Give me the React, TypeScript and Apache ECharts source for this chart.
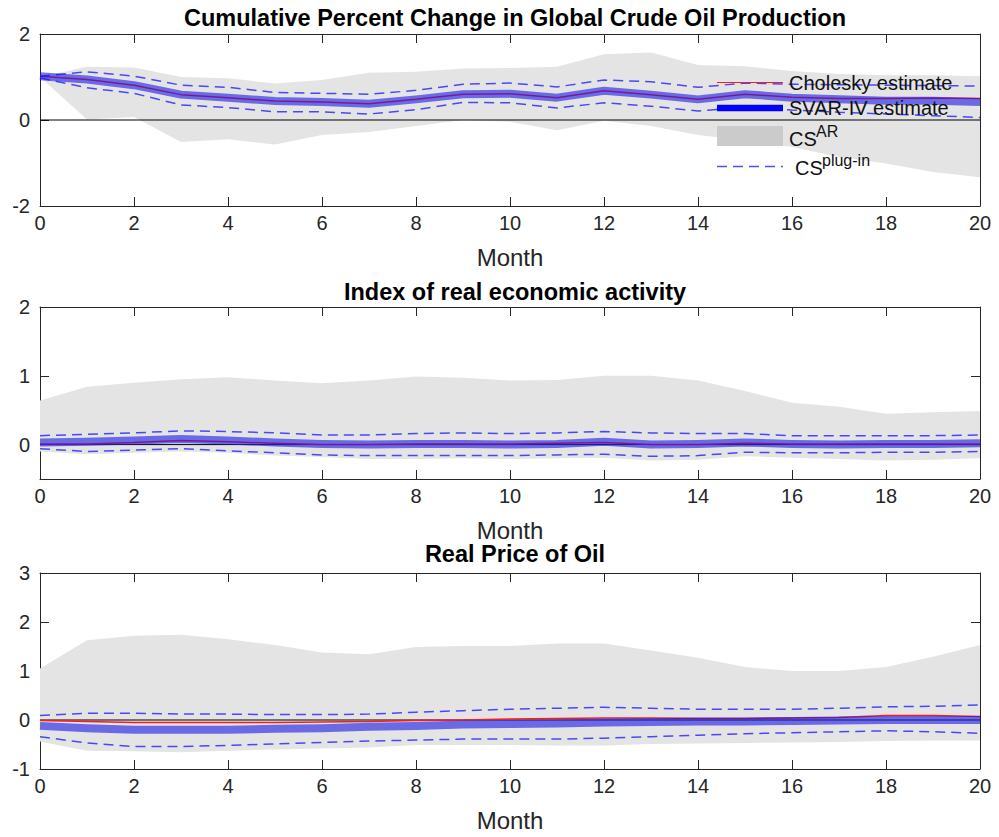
import React, { useEffect, useRef } from "react";
import * as echarts from "echarts";

// ---------- data ----------
const months = [0, 1, 2, 3, 4, 5, 6, 7, 8, 9, 10, 11, 12, 13, 14, 15, 16, 17, 18, 19, 20];

// Panel 1: Cumulative Percent Change in Global Crude Oil Production
const prodSvar = [1.02, 0.94, 0.81, 0.59, 0.52, 0.44, 0.42, 0.38, 0.48, 0.6, 0.61, 0.52, 0.68, 0.59, 0.48, 0.6, 0.52, 0.48, 0.45, 0.45, 0.42];
const prodChol = [1.02, 0.94, 0.81, 0.59, 0.52, 0.44, 0.42, 0.38, 0.48, 0.6, 0.61, 0.52, 0.68, 0.59, 0.48, 0.6, 0.53, 0.5, 0.5, 0.51, 0.5];
const prodPlugUpper = [1.02, 1.12, 1.02, 0.81, 0.76, 0.64, 0.62, 0.6, 0.69, 0.83, 0.86, 0.77, 0.93, 0.89, 0.76, 0.86, 0.83, 0.82, 0.81, 0.8, 0.79];
const prodPlugLower = [0.98, 0.75, 0.62, 0.35, 0.29, 0.19, 0.19, 0.14, 0.24, 0.41, 0.4, 0.28, 0.4, 0.32, 0.21, 0.3, 0.23, 0.18, 0.14, 0.1, 0.06];
const prodArUpper = [1.0, 1.24, 1.22, 1.0, 0.97, 0.85, 0.93, 1.1, 1.12, 1.2, 1.21, 1.24, 1.53, 1.57, 1.28, 1.25, 1.14, 1.07, 1.04, 1.04, 1.02];
const prodArLower = [1.0, 0.01, 0.07, -0.51, -0.45, -0.57, -0.35, -0.28, -0.14, 0.0, -0.04, -0.24, -0.02, -0.14, -0.35, -0.47, -0.63, -0.86, -1.01, -1.21, -1.33];

// Panel 2: Index of real economic activity
const actSvar = [0.03, 0.04, 0.06, 0.08, 0.06, 0.03, 0.01, 0.0, 0.01, 0.01, 0.0, 0.01, 0.04, 0.0, 0.01, 0.03, 0.01, 0.0, 0.01, 0.01, 0.02];
const actChol = [0.01, 0.01, 0.03, 0.06, 0.04, 0.02, 0.0, 0.0, 0.01, 0.01, 0.01, 0.02, 0.03, 0.0, 0.0, 0.02, 0.01, 0.01, 0.01, 0.01, 0.01];
const actPlugUpper = [0.13, 0.15, 0.17, 0.2, 0.19, 0.17, 0.14, 0.14, 0.16, 0.17, 0.16, 0.17, 0.19, 0.17, 0.16, 0.16, 0.13, 0.13, 0.13, 0.13, 0.14];
const actPlugLower = [-0.06, -0.1, -0.08, -0.06, -0.09, -0.12, -0.15, -0.16, -0.16, -0.16, -0.16, -0.15, -0.14, -0.17, -0.16, -0.11, -0.12, -0.12, -0.11, -0.11, -0.1];
const actArUpper = [0.64, 0.84, 0.9, 0.95, 0.98, 0.93, 0.89, 0.93, 0.99, 0.97, 0.93, 0.94, 1.0, 1.0, 0.93, 0.78, 0.61, 0.55, 0.45, 0.47, 0.49];
const actArLower = [-0.1, -0.14, -0.12, -0.1, -0.12, -0.16, -0.18, -0.21, -0.21, -0.2, -0.21, -0.2, -0.19, -0.23, -0.22, -0.17, -0.19, -0.21, -0.23, -0.22, -0.2];

// Panel 3: Real Price of Oil
const priceSvar = [-0.12, -0.17, -0.2, -0.2, -0.2, -0.18, -0.17, -0.14, -0.12, -0.09, -0.08, -0.07, -0.05, -0.04, -0.03, -0.03, -0.02, -0.01, 0.0, 0.0, 0.0];
const priceChol = [-0.01, -0.03, -0.05, -0.05, -0.05, -0.05, -0.04, -0.03, -0.01, 0.0, 0.02, 0.03, 0.04, 0.04, 0.03, 0.03, 0.04, 0.05, 0.09, 0.09, 0.07];
const pricePlugUpper = [0.09, 0.14, 0.14, 0.12, 0.12, 0.11, 0.11, 0.12, 0.16, 0.19, 0.22, 0.24, 0.26, 0.24, 0.22, 0.22, 0.22, 0.24, 0.27, 0.28, 0.31];
const pricePlugLower = [-0.34, -0.47, -0.54, -0.54, -0.52, -0.49, -0.46, -0.43, -0.41, -0.39, -0.39, -0.39, -0.37, -0.34, -0.31, -0.28, -0.26, -0.24, -0.22, -0.24, -0.27];
const priceArUpper = [1.05, 1.63, 1.72, 1.74, 1.65, 1.53, 1.38, 1.34, 1.49, 1.51, 1.51, 1.56, 1.56, 1.42, 1.27, 1.08, 1.0, 1.0, 1.08, 1.29, 1.53];
const priceArLower = [-0.44, -0.63, -0.64, -0.66, -0.63, -0.6, -0.58, -0.56, -0.51, -0.51, -0.51, -0.52, -0.52, -0.49, -0.48, -0.47, -0.46, -0.45, -0.43, -0.42, -0.42];

// Titles and tick labels
const titles = [
  "Cumulative Percent Change in Global Crude Oil Production",
  "Index of real economic activity",
  "Real Price of Oil",
];
const xTicks = [0, 2, 4, 6, 8, 10, 12, 14, 16, 18, 20];
const yTicks1 = [-2, 0, 2];
const yTicks2 = [0, 1, 2];
const yTicks3 = [-1, 0, 1, 2, 3];
const xAxisName = "Month";
const legendNames = ["Cholesky estimate", "SVAR-IV estimate"];

// ---------- styles / layout ----------
const FONT = "'Liberation Sans', Arial, Helvetica, sans-serif";
const AXIS = "#262626";
const BAND = "#e4e4e4";
const SVAR_COLOR = "rgba(30,30,230,0.62)";
const DASH_COLOR = "rgba(20,20,255,0.75)";
const RED = "#ff1a1a";

const layout = [
  { top: 34, height: 172, yMin: -2, yMax: 2, yTicks: yTicks1, titleTop: 1 },
  { top: 307, height: 172, yMin: -0.5, yMax: 2, yTicks: yTicks2, titleTop: 275 },
  { top: 573, height: 196, yMin: -1, yMax: 3, yTicks: yTicks3, titleTop: 537 },
];

const panelData = [
  { svar: prodSvar, chol: prodChol, pu: prodPlugUpper, pl: prodPlugLower, au: prodArUpper, al: prodArLower },
  { svar: actSvar, chol: actChol, pu: actPlugUpper, pl: actPlugLower, au: actArUpper, al: actArLower },
  { svar: priceSvar, chol: priceChol, pu: pricePlugUpper, pl: pricePlugLower, au: priceArUpper, al: priceArLower },
];

function buildOption() {
  const grid: any[] = [];
  const xAxis: any[] = [];
  const yAxis: any[] = [];
  const series: any[] = [];
  const title: any[] = [];

  layout.forEach((L, g) => {
    grid.push({ left: 40, top: L.top, width: 940, height: L.height, outerBoundsMode: "none", containLabel: false });
    title.push({
      text: titles[g],
      left: 510,
      top: L.titleTop,
      textAlign: "center",
      textStyle: { fontFamily: FONT, fontSize: 23.5, fontWeight: "bold", color: "#000" },
    });
    const tickStyle = { inside: true, length: 9, lineStyle: { color: AXIS, width: 1 } };
    const lineStyle = { show: true, onZero: false, lineStyle: { color: AXIS, width: 1 } };
    xAxis.push({
      gridIndex: g, type: "value", position: "bottom", min: 0, max: 20, interval: 2,
      axisLine: lineStyle,
      axisTick: { ...tickStyle, customValues: xTicks },
      axisLabel: { fontFamily: FONT, fontSize: 20, color: AXIS, margin: 7, customValues: xTicks },
      splitLine: { show: false },
      name: xAxisName, nameLocation: "middle", nameGap: 39,
      nameTextStyle: { fontFamily: FONT, fontSize: 24, color: AXIS },
    });
    xAxis.push({
      gridIndex: g, type: "value", position: "top", min: 0, max: 20, interval: 2,
      axisLine: lineStyle,
      axisTick: { ...tickStyle, customValues: xTicks },
      axisLabel: { show: false },
      splitLine: { show: false },
    });
    yAxis.push({
      gridIndex: g, type: "value", position: "left", min: L.yMin, max: L.yMax,
      axisLine: lineStyle,
      axisTick: { ...tickStyle, customValues: L.yTicks },
      axisLabel: { fontFamily: FONT, fontSize: 20, color: AXIS, margin: 10, customValues: L.yTicks },
      splitLine: { show: false },
    });
    yAxis.push({
      gridIndex: g, type: "value", position: "right", min: L.yMin, max: L.yMax,
      axisLine: lineStyle,
      axisTick: { ...tickStyle, customValues: L.yTicks },
      axisLabel: { show: false },
      splitLine: { show: false },
    });

    const D = panelData[g];
    const ax = { xAxisIndex: 2 * g, yAxisIndex: 2 * g };
    const pts = (vals: number[]) => months.map((m, k) => [m, vals[k]]);

    series.push({
      type: "custom", name: "CS AR", ...ax, z: 1, silent: true, clip: true,
      data: months.map((m, k) => [m, D.al[k], D.au[k]]),
      encode: { x: 0, y: [1, 2] },
      renderItem: (params: any, api: any) => {
        if (params.dataIndex !== 0) return null;
        const p: number[][] = [];
        months.forEach((m, k) => p.push(api.coord([m, D.au[k]])));
        for (let k = months.length - 1; k >= 0; k--) p.push(api.coord([months[k], D.al[k]]));
        return { type: "polygon", shape: { points: p }, style: { fill: BAND } };
      },
    });
    series.push({
      type: "line", name: "zero", ...ax, z: 2, silent: true, symbol: "none",
      data: months.map((m) => [m, 0]),
      lineStyle: { color: "#000", width: 1 },
    });
    series.push({
      type: "line", name: legendNames[0], ...ax, z: 3, silent: true, symbol: "none",
      data: pts(D.chol), lineStyle: { color: RED, width: 1.5 },
    });
    series.push({
      type: "line", name: legendNames[1], ...ax, z: 4, silent: true, symbol: "none",
      data: pts(D.svar), lineStyle: { color: SVAR_COLOR, width: 8, join: "round" },
    });
    series.push({
      type: "line", name: "CS plug-in upper", ...ax, z: 5, silent: true, symbol: "none",
      data: pts(D.pu), lineStyle: { color: DASH_COLOR, width: 1.5, type: [10, 6] },
    });
    series.push({
      type: "line", name: "CS plug-in lower", ...ax, z: 5, silent: true, symbol: "none",
      data: pts(D.pl), lineStyle: { color: DASH_COLOR, width: 1.5, type: [10, 6] },
    });
  });

  const txt = (text: string, x: number, y: number, size: number) => ({
    type: "text", x, y, z: 100,
    style: { text, fontFamily: FONT, fontSize: size, fill: "#111", align: "left", verticalAlign: "middle" },
  });

  const graphic: any[] = [
    { type: "line", z: 100, shape: { x1: 717, y1: 82.5, x2: 783, y2: 82.5 }, style: { stroke: RED, lineWidth: 1.2 } },
    txt(legendNames[0], 789, 83, 20),
    { type: "line", z: 100, shape: { x1: 717, y1: 108, x2: 783, y2: 108 }, style: { stroke: "#0000ff", lineWidth: 6.5 } },
    txt(legendNames[1], 789, 108, 20),
    { type: "rect", z: 100, shape: { x: 717, y: 126, width: 66, height: 20 }, style: { fill: "#cbcbcb" } },
    txt("CS", 789, 139, 20),
    txt("AR", 816, 131, 16),
    { type: "line", z: 100, shape: { x1: 717, y1: 166.5, x2: 783, y2: 166.5 }, style: { stroke: DASH_COLOR, lineWidth: 1.5, lineDash: [10, 6] } },
    txt("CS", 795, 168, 20),
    txt("plug-in", 822, 160, 16),
  ];

  return { animation: false, backgroundColor: "#fff", title, grid, xAxis, yAxis, series, graphic };
}

export default function App() {
  const ref = useRef<HTMLDivElement>(null);
  useEffect(() => {
    if (!ref.current) return;
    const chart = echarts.init(ref.current, null, { renderer: "svg" });
    chart.setOption(buildOption() as any);
    return () => chart.dispose();
  }, []);
  return <div ref={ref} style={{ position: "absolute", left: 0, top: 0, width: 999, height: 837 }} />;
}
